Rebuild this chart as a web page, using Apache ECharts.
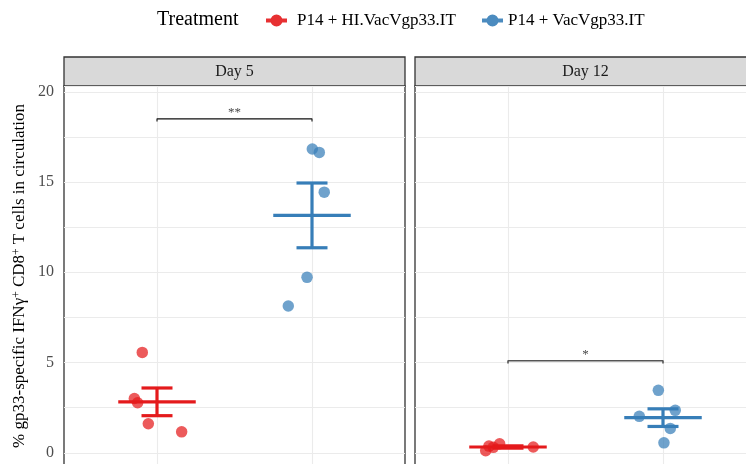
<!DOCTYPE html>
<html>
<head>
<meta charset="utf-8">
<script src="https://cdn.jsdelivr.net/npm/echarts@6/dist/echarts.min.js"></script>
<style>
  html, body { margin: 0; padding: 0; background: #fff; }
  #chart { width: 746px; height: 464px; }
</style>
</head>
<body>
<div id="chart"></div>
<script>
// Facets and treatment groups
const days = ['Day 5', 'Day 12'];
const treatments = ['P14 + HI.VacVgp33.IT', 'P14 + VacVgp33.IT'];

// % gp33-specific IFNγ+ CD8+ T cells per mouse
const day5Hi  = [5.56, 3.01, 2.77, 1.61, 1.16];
const day5Vac = [16.83, 16.64, 14.44, 9.72, 8.13];
const day12Hi  = [0.37, 0.50, 0.11, 0.30, 0.32];
const day12Vac = [3.46, 2.35, 2.02, 1.35, 0.55];

// horizontal jitter of each point around its group position (axis units)
const day5HiJitter  = [-0.095, -0.146, -0.125, -0.056, 0.159];
const day5VacJitter = [0.002, 0.047, 0.079, -0.032, -0.153];
const day12HiJitter  = [-0.123, -0.054, -0.144, -0.095, 0.163];
const day12VacJitter = [-0.030, 0.079, -0.153, 0.047, 0.006];

// significance brackets per facet
const sigLabels = ['**', '*'];
const sigHeights = [18.5, 5.1];

// y axis tick labels
const yTickLabels = [0, 5, 10, 15, 20];

const panelValues = [[day5Hi, day5Vac], [day12Hi, day12Vac]];
const panelJitter = [[day5HiJitter, day5VacJitter], [day12HiJitter, day12VacJitter]];

const colors = ['#E41A1C', '#377EB8'];
const FONT = 'Liberation Serif';
const panelLeft = [64, 415];
const panelWidth = 341;
const panelTop = 86;
const yMin = -2.5, yMax = 20.32;
const pxPerUnit = 18.05;
const panelHeight = (yMax - yMin) * pxPerUnit;

function meanSe(vals) {
  const n = vals.length;
  const m = vals.reduce((a, b) => a + b, 0) / n;
  const sd = Math.sqrt(vals.reduce((a, b) => a + (b - m) * (b - m), 0) / (n - 1));
  return [m, sd / Math.sqrt(n)];
}

const grids = [], xAxes = [], yAxes = [], series = [], graphics = [];

days.forEach((day, p) => {
  grids.push({
    left: panelLeft[p], top: panelTop, width: panelWidth, height: panelHeight,
    outerBoundsMode: 'none', containLabel: false,
    show: true, borderColor: '#333333', borderWidth: 1.3, backgroundColor: 'transparent'
  });
  xAxes.push({
    type: 'value', gridIndex: p, min: 0.4, max: 2.6,
    axisLine: { show: false }, axisTick: { show: false },
    axisLabel: { show: false }, splitLine: { show: false }
  });
  yAxes.push({
    type: 'value', gridIndex: p, min: yMin, max: yMax, interval: 2.5,
    axisLine: { show: false }, axisTick: { show: false },
    axisLabel: {
      show: p === 0, margin: 10, color: '#4D4D4D', fontFamily: FONT, fontSize: 16,
      formatter: v => (yTickLabels.indexOf(v) >= 0 ? String(v) : '')
    },
    splitLine: { show: true, lineStyle: { color: '#EBEBEB', width: 1 } }
  });

  // significance bracket, with the vertical grid lines at the group positions
  const h = sigHeights[p];
  series.push({
    type: 'line', xAxisIndex: p, yAxisIndex: p, silent: true, z: 5,
    symbol: 'none',
    data: [[1, h - 0.15], [1, h], [2, h], [2, h - 0.15]],
    lineStyle: { color: p === 0 ? '#111111' : '#555555', width: p === 0 ? 1.1 : 1.6 },
    markLine: {
      z: 1, silent: true, symbol: 'none', label: { show: false },
      lineStyle: { color: '#EBEBEB', width: 1.1, type: 'solid' },
      data: [{ xAxis: 1 }, { xAxis: 2 }]
    }
  });
  series.push({
    type: 'scatter', xAxisIndex: p, yAxisIndex: p, silent: true, z: 5,
    symbolSize: 0,
    data: [[1.5, h]],
    label: {
      show: true, position: 'top', distance: 0, formatter: sigLabels[p],
      color: '#111111', fontFamily: FONT, fontSize: 13
    }
  });

  treatments.forEach((name, t) => {
    const vals = panelValues[p][t];
    const jit = panelJitter[p][t];
    const [m, se] = meanSe(vals);
    const color = colors[t];
    // mean and standard error
    series.push({
      type: 'custom', xAxisIndex: p, yAxisIndex: p, silent: true, z: 3,
      data: [[t + 1, m, se]],
      renderItem: (params, api) => {
        const x = api.value(0), mu = api.value(1), s = api.value(2);
        const style = { stroke: color, lineWidth: 3.2 };
        const seg = (a, b) => {
          const p1 = api.coord(a), p2 = api.coord(b);
          return { type: 'line', shape: { x1: p1[0], y1: p1[1], x2: p2[0], y2: p2[1] }, style };
        };
        return {
          type: 'group',
          children: [
            seg([x - 0.25, mu], [x + 0.25, mu]),
            seg([x, mu - s], [x, mu + s]),
            seg([x - 0.1, mu + s], [x + 0.1, mu + s]),
            seg([x - 0.1, mu - s], [x + 0.1, mu - s])
          ]
        };
      }
    });
    // individual mice
    series.push({
      type: 'scatter', name: name, xAxisIndex: p, yAxisIndex: p, z: 4,
      symbol: 'circle', symbolSize: 11.5,
      itemStyle: { color: color, opacity: 0.72 },
      data: vals.map((v, i) => [t + 1 + jit[i], v])
    });
  });

  // facet strip
  graphics.push({
    type: 'rect', silent: true,
    shape: { x: panelLeft[p], y: 57, width: panelWidth, height: panelTop - 57 },
    style: { fill: '#D9D9D9', stroke: '#333333', lineWidth: 1.3 }
  });
  graphics.push({
    type: 'text', silent: true,
    x: panelLeft[p] + panelWidth / 2, y: 71.5,
    style: {
      text: day, fill: '#1A1A1A', font: '16px "' + FONT + '"',
      align: 'center', verticalAlign: 'middle'
    }
  });
});

// legend title
graphics.push({
  type: 'text', silent: true, x: 157, y: 20,
  style: { text: 'Treatment', fill: '#000000', font: '20px "' + FONT + '"', align: 'left', verticalAlign: 'middle' }
});

// y axis title
graphics.push({
  type: 'text', silent: true, x: 20, y: 276, rotation: Math.PI / 2,
  style: {
    text: '% gp33-specific IFNγ{sup|+} CD8{sup|+} T cells in circulation',
    fill: '#000000', fontFamily: FONT, fontSize: 17, lineHeight: 19,
    align: 'center', verticalAlign: 'middle',
    rich: { sup: { fontFamily: FONT, fontSize: 11.5, lineHeight: 19, verticalAlign: 'top', padding: [0, 0, 7, 0] } }
  }
});

const legendIcon = 'path://M0,4.5H21V8.5H0Z M10.5,0.5A6,6 0 1,1 10.49,0.5Z';
const legendBase = {
  orient: 'horizontal', top: 7, itemWidth: 21, itemHeight: 13, itemGap: 10,
  icon: legendIcon, selectedMode: false,
  itemStyle: { opacity: 0.9 },
  textStyle: { color: '#000000', fontFamily: FONT, fontSize: 17 }
};

const chart = echarts.init(document.getElementById('chart'), null, { renderer: 'canvas' });
chart.setOption({
  animation: false,
  backgroundColor: '#ffffff',
  legend: [
    Object.assign({}, legendBase, { left: 261, data: [treatments[0]],
      textStyle: Object.assign({}, legendBase.textStyle, { padding: [0, 0, 0, 5] }) }),
    Object.assign({}, legendBase, { left: 477, data: [treatments[1]] })
  ],
  grid: grids,
  xAxis: xAxes,
  yAxis: yAxes,
  series: series,
  graphic: graphics
});
</script>
</body>
</html>
